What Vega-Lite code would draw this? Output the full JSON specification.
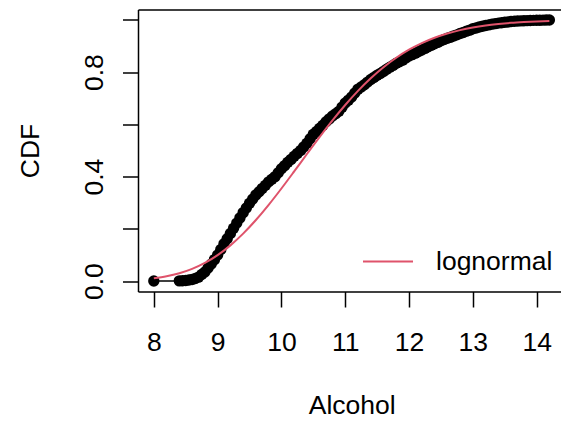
{
  "$schema": "https://vega.github.io/schema/vega-lite/v6.json",
  "autosize": {"type": "none"},
  "padding": {"left": 138, "top": 9.5, "right": 0, "bottom": 130.5},
  "width": 423,
  "height": 282,
  "background": "white",
  "config": {
    "view": {"stroke": null},
    "font": "Liberation Sans",
    "axis": {
      "grid": false,
      "domainColor": "black",
      "domainWidth": 1.5,
      "tickColor": "black",
      "tickWidth": 1.5,
      "tickSize": 15.5,
      "labelColor": "black",
      "labelFont": "Liberation Sans",
      "labelFontSize": 26.5,
      "titleColor": "black",
      "titleFont": "Liberation Sans",
      "titleFontSize": 26.5,
      "titleFontWeight": "normal"
    }
  },
  "datasets": {
    "ecdf": [
      {"alcohol": 8.0, "cdf": 0.0004},
      {"alcohol": 8.4, "cdf": 0.0008},
      {"alcohol": 8.45, "cdf": 0.0012},
      {"alcohol": 8.5, "cdf": 0.002},
      {"alcohol": 8.55, "cdf": 0.004},
      {"alcohol": 8.6, "cdf": 0.006},
      {"alcohol": 8.65, "cdf": 0.01},
      {"alcohol": 8.7, "cdf": 0.015},
      {"alcohol": 8.75, "cdf": 0.025},
      {"alcohol": 8.8, "cdf": 0.035},
      {"alcohol": 8.85, "cdf": 0.05},
      {"alcohol": 8.9, "cdf": 0.065},
      {"alcohol": 8.95, "cdf": 0.082},
      {"alcohol": 9.0, "cdf": 0.1},
      {"alcohol": 9.05, "cdf": 0.121},
      {"alcohol": 9.1, "cdf": 0.143},
      {"alcohol": 9.15, "cdf": 0.162},
      {"alcohol": 9.2, "cdf": 0.182},
      {"alcohol": 9.25, "cdf": 0.202},
      {"alcohol": 9.3, "cdf": 0.222},
      {"alcohol": 9.35, "cdf": 0.242},
      {"alcohol": 9.4, "cdf": 0.262},
      {"alcohol": 9.45, "cdf": 0.28},
      {"alcohol": 9.5, "cdf": 0.298},
      {"alcohol": 9.55, "cdf": 0.314},
      {"alcohol": 9.6, "cdf": 0.33},
      {"alcohol": 9.65, "cdf": 0.342},
      {"alcohol": 9.7, "cdf": 0.355},
      {"alcohol": 9.75, "cdf": 0.367},
      {"alcohol": 9.8, "cdf": 0.38},
      {"alcohol": 9.85, "cdf": 0.39},
      {"alcohol": 9.9, "cdf": 0.4},
      {"alcohol": 9.95, "cdf": 0.415},
      {"alcohol": 10.0, "cdf": 0.43},
      {"alcohol": 10.05, "cdf": 0.442},
      {"alcohol": 10.1, "cdf": 0.455},
      {"alcohol": 10.15, "cdf": 0.466},
      {"alcohol": 10.2, "cdf": 0.478},
      {"alcohol": 10.25, "cdf": 0.489},
      {"alcohol": 10.3, "cdf": 0.5},
      {"alcohol": 10.35, "cdf": 0.514},
      {"alcohol": 10.4, "cdf": 0.528},
      {"alcohol": 10.45, "cdf": 0.545},
      {"alcohol": 10.5, "cdf": 0.562},
      {"alcohol": 10.55, "cdf": 0.573},
      {"alcohol": 10.6, "cdf": 0.585},
      {"alcohol": 10.65, "cdf": 0.597},
      {"alcohol": 10.7, "cdf": 0.61},
      {"alcohol": 10.75, "cdf": 0.621},
      {"alcohol": 10.8, "cdf": 0.632},
      {"alcohol": 10.85, "cdf": 0.641},
      {"alcohol": 10.9, "cdf": 0.65},
      {"alcohol": 10.95, "cdf": 0.666},
      {"alcohol": 11.0, "cdf": 0.682},
      {"alcohol": 11.05, "cdf": 0.693},
      {"alcohol": 11.1, "cdf": 0.705},
      {"alcohol": 11.15, "cdf": 0.72},
      {"alcohol": 11.2, "cdf": 0.735},
      {"alcohol": 11.25, "cdf": 0.743},
      {"alcohol": 11.3, "cdf": 0.752},
      {"alcohol": 11.35, "cdf": 0.762},
      {"alcohol": 11.4, "cdf": 0.772},
      {"alcohol": 11.45, "cdf": 0.78},
      {"alcohol": 11.5, "cdf": 0.788},
      {"alcohol": 11.55, "cdf": 0.795},
      {"alcohol": 11.6, "cdf": 0.803},
      {"alcohol": 11.65, "cdf": 0.811},
      {"alcohol": 11.7, "cdf": 0.819},
      {"alcohol": 11.75, "cdf": 0.826},
      {"alcohol": 11.8, "cdf": 0.834},
      {"alcohol": 11.85, "cdf": 0.84},
      {"alcohol": 11.9, "cdf": 0.846},
      {"alcohol": 11.95, "cdf": 0.854},
      {"alcohol": 12.0, "cdf": 0.862},
      {"alcohol": 12.05, "cdf": 0.867},
      {"alcohol": 12.1, "cdf": 0.873},
      {"alcohol": 12.15, "cdf": 0.879},
      {"alcohol": 12.2, "cdf": 0.885},
      {"alcohol": 12.25, "cdf": 0.891},
      {"alcohol": 12.3, "cdf": 0.897},
      {"alcohol": 12.35, "cdf": 0.903},
      {"alcohol": 12.4, "cdf": 0.909},
      {"alcohol": 12.45, "cdf": 0.914},
      {"alcohol": 12.5, "cdf": 0.92},
      {"alcohol": 12.55, "cdf": 0.925},
      {"alcohol": 12.6, "cdf": 0.93},
      {"alcohol": 12.65, "cdf": 0.934},
      {"alcohol": 12.7, "cdf": 0.939},
      {"alcohol": 12.75, "cdf": 0.943},
      {"alcohol": 12.8, "cdf": 0.948},
      {"alcohol": 12.85, "cdf": 0.952},
      {"alcohol": 12.9, "cdf": 0.957},
      {"alcohol": 12.95, "cdf": 0.961},
      {"alcohol": 13.0, "cdf": 0.966},
      {"alcohol": 13.05, "cdf": 0.969},
      {"alcohol": 13.1, "cdf": 0.973},
      {"alcohol": 13.15, "cdf": 0.976},
      {"alcohol": 13.2, "cdf": 0.979},
      {"alcohol": 13.25, "cdf": 0.981},
      {"alcohol": 13.3, "cdf": 0.984},
      {"alcohol": 13.35, "cdf": 0.986},
      {"alcohol": 13.4, "cdf": 0.988},
      {"alcohol": 13.45, "cdf": 0.989},
      {"alcohol": 13.5, "cdf": 0.991},
      {"alcohol": 13.55, "cdf": 0.992},
      {"alcohol": 13.6, "cdf": 0.994},
      {"alcohol": 13.65, "cdf": 0.995},
      {"alcohol": 13.7, "cdf": 0.996},
      {"alcohol": 13.75, "cdf": 0.9965},
      {"alcohol": 13.8, "cdf": 0.997},
      {"alcohol": 13.85, "cdf": 0.9975},
      {"alcohol": 13.9, "cdf": 0.998},
      {"alcohol": 13.95, "cdf": 0.9985},
      {"alcohol": 14.0, "cdf": 0.9988},
      {"alcohol": 14.05, "cdf": 0.999},
      {"alcohol": 14.1, "cdf": 0.9994},
      {"alcohol": 14.15, "cdf": 0.9997},
      {"alcohol": 14.2, "cdf": 1.0}
    ],
    "fit": [
      {"alcohol": 8.0, "cdf": 0.0106, "dist": "lognormal"},
      {"alcohol": 8.2, "cdf": 0.0182, "dist": "lognormal"},
      {"alcohol": 8.4, "cdf": 0.0299, "dist": "lognormal"},
      {"alcohol": 8.6, "cdf": 0.0466, "dist": "lognormal"},
      {"alcohol": 8.8, "cdf": 0.0694, "dist": "lognormal"},
      {"alcohol": 9.0, "cdf": 0.0993, "dist": "lognormal"},
      {"alcohol": 9.2, "cdf": 0.1367, "dist": "lognormal"},
      {"alcohol": 9.4, "cdf": 0.1817, "dist": "lognormal"},
      {"alcohol": 9.6, "cdf": 0.2337, "dist": "lognormal"},
      {"alcohol": 9.8, "cdf": 0.2918, "dist": "lognormal"},
      {"alcohol": 10.0, "cdf": 0.3545, "dist": "lognormal"},
      {"alcohol": 10.2, "cdf": 0.42, "dist": "lognormal"},
      {"alcohol": 10.4, "cdf": 0.4866, "dist": "lognormal"},
      {"alcohol": 10.6, "cdf": 0.5522, "dist": "lognormal"},
      {"alcohol": 10.8, "cdf": 0.6153, "dist": "lognormal"},
      {"alcohol": 11.0, "cdf": 0.6743, "dist": "lognormal"},
      {"alcohol": 11.2, "cdf": 0.7284, "dist": "lognormal"},
      {"alcohol": 11.4, "cdf": 0.7767, "dist": "lognormal"},
      {"alcohol": 11.6, "cdf": 0.8191, "dist": "lognormal"},
      {"alcohol": 11.8, "cdf": 0.8554, "dist": "lognormal"},
      {"alcohol": 12.0, "cdf": 0.886, "dist": "lognormal"},
      {"alcohol": 12.2, "cdf": 0.9112, "dist": "lognormal"},
      {"alcohol": 12.4, "cdf": 0.9318, "dist": "lognormal"},
      {"alcohol": 12.6, "cdf": 0.9482, "dist": "lognormal"},
      {"alcohol": 12.8, "cdf": 0.9611, "dist": "lognormal"},
      {"alcohol": 13.0, "cdf": 0.9712, "dist": "lognormal"},
      {"alcohol": 13.2, "cdf": 0.9789, "dist": "lognormal"},
      {"alcohol": 13.4, "cdf": 0.9846, "dist": "lognormal"},
      {"alcohol": 13.6, "cdf": 0.989, "dist": "lognormal"},
      {"alcohol": 13.8, "cdf": 0.9921, "dist": "lognormal"},
      {"alcohol": 14.0, "cdf": 0.9945, "dist": "lognormal"},
      {"alcohol": 14.2, "cdf": 0.9961, "dist": "lognormal"}
    ]
  },
  "layer": [
    {
      "data": {"name": "ecdf"},
      "mark": {"type": "line", "interpolate": "step-after", "color": "black", "strokeWidth": 1.5},
      "encoding": {
        "x": {
          "field": "alcohol", "type": "quantitative",
          "scale": {"domain": [7.752, 14.382], "nice": false, "zero": false},
          "axis": {
            "orient": "bottom",
            "title": "Alcohol",
            "values": [8, 9, 10, 11, 12, 13, 14],
            "labelBaseline": "alphabetic",
            "labelPadding": 43.5,
            "titleBaseline": "alphabetic",
            "titleX": 213.7,
            "titleY": 122,
            "titleAnchor": null,
            "titleAlign": "center"
          }
        },
        "y": {
          "field": "cdf", "type": "quantitative",
          "scale": {"domain": [-0.04, 1.04], "nice": false, "zero": false},
          "axis": {
            "title": "CDF",
            "values": [0, 0.2, 0.4, 0.6, 0.8, 1.0],
            "labelExpr": "(abs(datum.value - 0.2) < 0.01 || abs(datum.value - 0.6) < 0.01 || abs(datum.value - 1) < 0.01) ? '' : format(datum.value, '.1f')",
            "labelAngle": -90,
            "labelAlign": "center",
            "labelBaseline": "alphabetic",
            "labelPadding": 20.5,
            "titleAngle": -90,
            "titleBaseline": "alphabetic",
            "titleX": -100,
            "titleY": 141
          }
        }
      }
    },
    {
      "data": {"name": "ecdf"},
      "mark": {"type": "point", "shape": "circle", "filled": true, "color": "black", "opacity": 1, "size": 130},
      "encoding": {
        "x": {
          "field": "alcohol", "type": "quantitative",
          "axis": {"orient": "top", "ticks": false, "labels": false, "title": null, "domain": true}
        },
        "y": {"field": "cdf", "type": "quantitative"}
      }
    },
    {
      "data": {"name": "fit"},
      "mark": {"type": "line", "strokeWidth": 2, "interpolate": "monotone"},
      "encoding": {
        "x": {"field": "alcohol", "type": "quantitative", "axis": null},
        "y": {"field": "cdf", "type": "quantitative"},
        "color": {
          "field": "dist", "type": "nominal",
          "scale": {"range": ["#DF536B"]},
          "legend": {
            "orient": "none",
            "legendX": 224,
            "legendY": 226,
            "title": null,
            "padding": 0,
            "symbolType": "stroke",
            "symbolSize": 2500,
            "symbolStrokeWidth": 2,
            "labelOffset": 22,
            "labelFont": "Liberation Sans",
            "labelFontSize": 26.5,
            "labelColor": "black",
            "labelBaseline": "middle"
          }
        }
      }
    }
  ],
  "resolve": {"axis": {"x": "independent"}}
}
